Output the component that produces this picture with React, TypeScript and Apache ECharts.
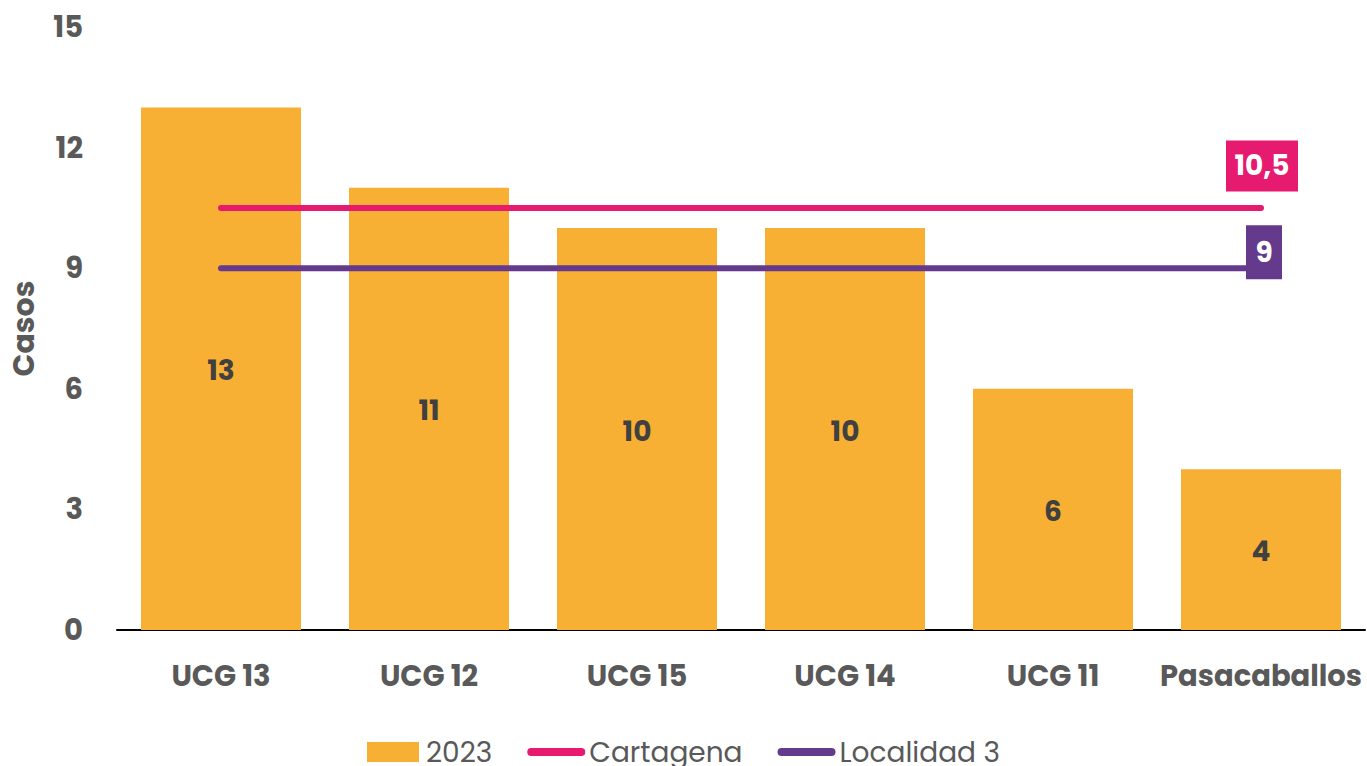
import React, { useEffect, useRef } from "react";
import * as echarts from "echarts";

const categories = ["UCG 13", "UCG 12", "UCG 15", "UCG 14", "UCG 11", "Pasacaballos"];
const values2023 = [13, 11, 10, 10, 6, 4];
const cartagenaValue = 10.5;
const localidadValue = 9;
const cartagena = categories.map(() => cartagenaValue);
const localidad = categories.map(() => localidadValue);

const FONT = "Poppins, 'Noto Sans', sans-serif";
const GREY = "#595959";
const ORANGE = "#F7B033";
const PINK = "#E61A6E";
const PURPLE = "#653A8C";

const RECT_ICON = "path://M0,0H52V20H0Z";
const LINE_ICON = "path://M4,0H54A4,4,0,0,1,54,8H4A4,4,0,0,1,4,0Z";

export default function App() {
  const ref = useRef<HTMLDivElement>(null);
  useEffect(() => {
    if (!ref.current) return;
    const chart = echarts.init(ref.current, undefined, { renderer: "svg" });
    const last = categories[categories.length - 1];
    chart.setOption({
      animation: false,
      textStyle: { fontFamily: FONT },
      grid: { left: 117, right: 2, top: 27, bottom: 136, containLabel: false, outerBoundsMode: "none" },
      legend: {
        left: 367,
        top: 738,
        padding: 0,
        itemWidth: 58,
        itemHeight: 20,
        itemGap: 35,
        symbolKeepAspect: true,
        textStyle: { fontFamily: FONT, fontSize: 28, lineHeight: 16, color: GREY, padding: [0, 0, 4, -1] },
        data: [
          { name: "2023", icon: RECT_ICON },
          { name: "Cartagena", icon: LINE_ICON },
          { name: "Localidad 3", icon: LINE_ICON },
        ],
      },
      xAxis: {
        type: "category",
        data: categories,
        axisLine: { show: true, lineStyle: { color: "#000", width: 2 } },
        axisTick: { show: false },
        axisLabel: { color: GREY, fontSize: 29, fontWeight: "bold", margin: 31, fontFamily: FONT, interval: 0 },
      },
      yAxis: {
        type: "value",
        min: 0,
        max: 15,
        interval: 3,
        name: "Casos",
        nameLocation: "middle",
        nameGap: 79,
        nameTextStyle: { color: GREY, fontSize: 30, fontWeight: "bold", fontFamily: FONT },
        axisLine: { show: false },
        axisTick: { show: false },
        splitLine: { show: false },
        axisLabel: { color: GREY, fontSize: 29, fontWeight: "bold", margin: 34, fontFamily: FONT },
      },
      series: [
        {
          name: "2023",
          type: "bar",
          data: values2023,
          barWidth: 160,
          itemStyle: { color: ORANGE },
          label: { show: true, position: "inside", offset: [0, 2], color: "#404040", fontSize: 28, fontWeight: "bold", fontFamily: FONT },
        },
        {
          name: "Cartagena",
          type: "line",
          data: cartagena,
          symbol: "none",
          lineStyle: { color: PINK, width: 6, cap: "round" },
          itemStyle: { color: PINK },
          markPoint: {
            symbol: "rect",
            symbolSize: [72, 51],
            symbolOffset: [1, -42],
            itemStyle: { color: PINK },
            label: { show: true, position: "inside", color: "#fff", fontSize: 28, fontWeight: "bold", fontFamily: FONT, formatter: "10,5" },
            data: [{ coord: [last, cartagenaValue], value: cartagenaValue }],
          },
        },
        {
          name: "Localidad 3",
          type: "line",
          data: localidad,
          symbol: "none",
          lineStyle: { color: PURPLE, width: 6, cap: "round" },
          itemStyle: { color: PURPLE },
          markPoint: {
            symbol: "rect",
            symbolSize: [36, 54],
            symbolOffset: [3, -16],
            itemStyle: { color: PURPLE },
            label: { show: true, position: "inside", color: "#fff", fontSize: 28, fontWeight: "bold", fontFamily: FONT, formatter: "9" },
            data: [{ coord: [last, localidadValue], value: localidadValue }],
          },
        },
      ],
    });
    return () => chart.dispose();
  }, []);
  return (
    <div
      ref={ref}
      style={{ position: "fixed", left: 0, top: 0, width: 1367, height: 766, background: "#fff" }}
    />
  );
}
